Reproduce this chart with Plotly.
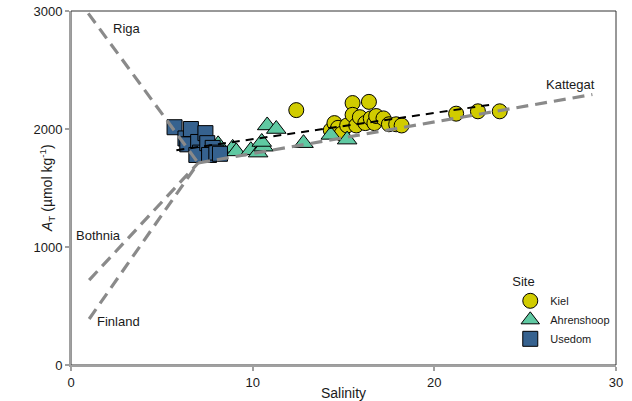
import plotly.graph_objects as go

# ---- data ----
kiel_S = [12.4, 14.3, 14.5, 14.7, 14.9, 15.2, 15.5, 15.5, 15.7, 15.9, 16.2, 16.4, 16.5, 16.7, 16.8, 17.2, 17.5, 17.9, 18.2, 21.2, 22.4, 23.6]
kiel_TA = [2160, 1990, 2050, 2010, 1960, 2030, 2220, 2120, 2030, 2100, 2050, 2230, 2090, 2050, 2110, 2090, 2040, 2040, 2030, 2130, 2150, 2150]

ahren_S = [8.1, 8.9, 9.1, 9.9, 10.3, 10.6, 10.5, 10.8, 11.3, 12.8, 14.3, 15.2]
ahren_TA = [1870, 1840, 1810, 1820, 1800, 1850, 1890, 2030, 2000, 1880, 1950, 1910]

used_S = [5.7, 6.3, 6.6, 6.4, 7.0, 7.4, 7.1, 6.9, 7.5, 7.8, 7.6, 8.0, 8.2]
used_TA = [2015, 1920, 2000, 1870, 1890, 1965, 1800, 1780, 1880, 1840, 1780, 1800, 1790]

# regression line (black dashed)
fit_S = [5.8, 23.3]
fit_TA = [1820, 2210]

# mixing lines (grey dashed)
riga_S, riga_TA = [0.95, 7.0], [2980, 1712]
bothnia_S, bothnia_TA = [1.0, 7.0], [720, 1712]
finland_S, finland_TA = [1.0, 7.0], [390, 1712]
kattegat_S, kattegat_TA = [7.0, 28.7], [1712, 2292]

# end-member labels
label_text = ["Riga", "Kattegat", "Bothnia", "Finland"]
label_S = [3.1, 27.5, 1.5, 2.6]
label_TA = [2850, 2375, 1100, 365]

x_ticks = [0, 10, 20, 30]
y_ticks = [0, 1000, 2000, 3000]

fig = go.Figure()

mk_line = dict(color="black", width=1)
fig.add_trace(go.Scatter(x=kiel_S, y=kiel_TA, mode="markers", name="Kiel",
                         marker=dict(symbol="circle", size=15, color="#d1cc00", line=mk_line)))
fig.add_trace(go.Scatter(x=ahren_S, y=ahren_TA, mode="markers", name="Ahrenshoop",
                         marker=dict(symbol="triangle-up", size=17, color="#5fc9a2", line=mk_line)))
fig.add_trace(go.Scatter(x=used_S, y=used_TA, mode="markers", name="Usedom",
                         marker=dict(symbol="square", size=15, color="#36628f", line=mk_line)))

grey = dict(color="#8a8a8a", width=3.2, dash="12px,7px")
for xs, ys in [(riga_S, riga_TA), (bothnia_S, bothnia_TA), (finland_S, finland_TA), (kattegat_S, kattegat_TA)]:
    fig.add_trace(go.Scatter(x=xs, y=ys, mode="lines", line=grey, showlegend=False, hoverinfo="skip"))

fig.add_trace(go.Scatter(x=fit_S, y=fit_TA, mode="lines", showlegend=False, hoverinfo="skip",
                         line=dict(color="black", width=2, dash="8px,6px")))

for t, xs, ys in zip(label_text, label_S, label_TA):
    fig.add_annotation(x=xs, y=ys, text=t, showarrow=False,
                       font=dict(size=13, color="#1a1a1a"))

# y-axis title
fig.add_annotation(xref="paper", yref="paper", x=0, y=0.5, xshift=-36, textangle=-90,
                   text="<i>A</i><sub>T</sub> (µmol kg<sup>-1</sup>)", showarrow=False,
                   font=dict(size=14, color="#1a1a1a"))

# panel border (top/right dark)
fig.add_shape(type="rect", xref="paper", yref="paper", x0=0, y0=0, x1=1, y1=1,
              line=dict(color="#333333", width=1), layer="below")

axis_common = dict(showgrid=False, zeroline=False, showline=True, linecolor="#a0a0a0", linewidth=2,
                   ticks="outside", tickcolor="#a0a0a0", ticklen=4, tickwidth=1.5,
                   tickfont=dict(size=13, color="#1a1a1a"), automargin=False)

fig.update_xaxes(range=[0, 30], tickvals=x_ticks, title=dict(text="Salinity", font=dict(size=14, color="#1a1a1a"), standoff=2),
                 **axis_common)
fig.update_yaxes(range=[0, 3000], tickvals=y_ticks, **axis_common)

fig.update_layout(
    width=632, height=401,
    margin=dict(l=71, r=16, t=11, b=36),
    paper_bgcolor="white", plot_bgcolor="white",
    font=dict(family="Liberation Sans, Arial, sans-serif", color="#1a1a1a"),
    legend=dict(title=dict(text="Site", font=dict(size=13)), font=dict(size=11),
                x=0.806, y=0.27, xanchor="left", yanchor="top", bgcolor="rgba(0,0,0,0)",
                tracegroupgap=0),
)

fig.write_html("out.html", config={"displayModeBar": False},
               post_script="document.body.style.margin='0';document.body.style.padding='0';")
